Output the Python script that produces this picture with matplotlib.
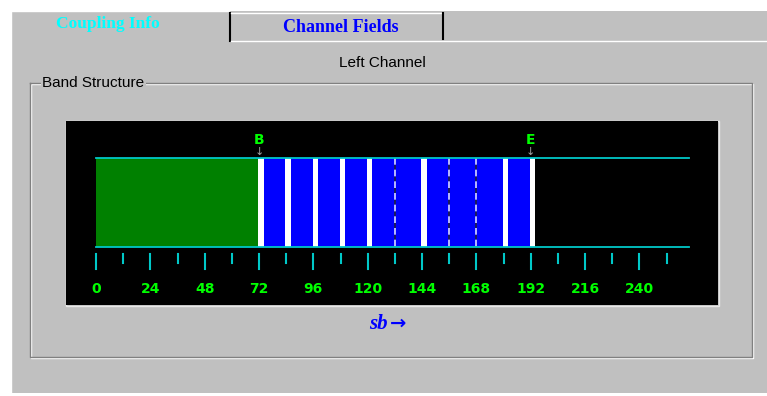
import matplotlib
matplotlib.use("Agg")
import matplotlib.pyplot as plt
from matplotlib.patches import Rectangle

# ── Data ──────────────────────────────────────────────────────────────────────
coupled_start = 0          # green region (coupled)
coupled_end = 72
band_start = 72            # blue region, B..E
band_end = 192
solid_borders = [72, 84, 96, 108, 120, 144, 180, 192]
dashed_borders = [132, 156, 168]
axis_end = 262
major_ticks = [0, 24, 48, 72, 96, 120, 144, 168, 192, 216, 240]
minor_ticks = [12, 36, 60, 84, 108, 132, 156, 180, 204, 228, 252]
marker_labels = ["B", "E"]
marker_pos = [72, 192]

tab_labels = ["Coupling Info", "Channel Fields"]
channel_title = "Left Channel"
group_title = "Band Structure"
axis_label = "sb"

W, H = 767, 396
GRAY = "#c0c0c0"
CYAN = "#00c8c8"
GREEN = "#00ff00"

fig = plt.figure(figsize=(W / 100, H / 100), dpi=100)
fig.patch.set_facecolor("white")

# ── Window chrome in pixel coordinates ────────────────────────────────────────
bg = fig.add_axes([0, 0, 1, 1])
bg.set_xlim(0, W)
bg.set_ylim(H, 0)
bg.axis("off")

bg.add_patch(Rectangle((11, 11), W - 11, 382, fc=GRAY, ec="none"))

# tabs
bg.plot([11, 11], [11, 393], color="white", lw=1)
bg.plot([11, 229], [11, 11], color="white", lw=1)
bg.plot([230, 230], [13, 41], color="black", lw=1.5)
bg.plot([231, 442], [13, 13], color="white", lw=1)
bg.plot([443, 443], [13, 39], color="black", lw=1.5)
bg.plot([231, W], [41, 41], color="white", lw=1)
bg.text(108, 24, tab_labels[0], color="#00ffff", fontsize=12.5, fontweight="bold",
        family="Liberation Serif", ha="center", va="center")
bg.text(341, 28, tab_labels[1], color="#0000ff", fontsize=13, fontweight="bold",
        family="Liberation Serif", ha="center", va="center")

bg.text(382, 63, channel_title, color="black", fontsize=11,
        family="Liberation Sans", ha="center", va="center")

# group box (etched frame)
x0, y0, x1, y1 = 30, 83, 752, 357
for off, col in [(1, "white"), (0, "#808080")]:
    bg.plot([x0 + off, x1 + off, x1 + off, x0 + off, x0 + off],
            [y0 + off, y0 + off, y1 + off, y1 + off, y0 + off], color=col, lw=1)
bg.text(42, 83, group_title, color="black", fontsize=11, family="Liberation Sans",
        ha="left", va="center", bbox=dict(fc=GRAY, ec="none", pad=1))

bg.text(388, 324, axis_label, color="#0000ff", fontsize=15, fontweight="bold",
        style="italic", family="Liberation Serif", ha="right", va="center")
bg.text(390, 323, "\u2192", color="#0000ff", fontsize=14, fontweight="bold",
        family="DejaVu Sans", ha="left", va="center")

# panel border
bg.add_patch(Rectangle((65.5, 120.5), 653, 185, fc="none", ec="#e8e8e8", lw=1))

# ── Band chart ────────────────────────────────────────────────────────────────
px0, py0, px1, py1 = 66, 121, 718, 305
ax = fig.add_axes([px0 / W, 1 - py1 / H, (px1 - px0) / W, (py1 - py0) / H])
ax.set_facecolor("black")
scale = (259 - 96) / 72.0
ax.set_xlim(-(96 - px0) / scale, (px1 - 96) / scale)
ax.set_ylim(py1, py0)
ax.axis("off")
ax.add_patch(Rectangle((-100, 0), 1000, 1000, fc="black", ec="none", zorder=0))

top, bot = 158, 247
ax.fill_between([coupled_start, coupled_end], top, bot, color="#008000", lw=0, zorder=1)
ax.fill_between([band_start, band_end], top, bot, color="#0000ff", lw=0, zorder=1)
stripe = 2.4
for b in solid_borders:
    ax.fill_between([b - 0.3, b - 0.3 + stripe], top, bot, color="white", lw=0, zorder=2)
for b in dashed_borders:
    ax.plot([b, b], [top, bot], color="#d8d8ff", lw=1.2, ls=(0, (4, 3)),
            gapcolor="#202040", zorder=2)
ax.plot([0, axis_end], [top, top], color=CYAN, lw=1.3, zorder=3)
ax.plot([0, axis_end], [bot, bot], color=CYAN, lw=1.3, zorder=3)

for t in major_ticks:
    ax.plot([t, t], [254, 269], color=CYAN, lw=1.5)
    ax.text(t, 289, str(t), color=GREEN, fontsize=10, fontweight="bold",
            family="DejaVu Sans", ha="center", va="center")
for t in minor_ticks:
    ax.plot([t, t], [254, 263], color=CYAN, lw=1.5)

for lab, pos in zip(marker_labels, marker_pos):
    ax.text(pos, 140, lab, color=GREEN, fontsize=10, fontweight="bold",
            family="DejaVu Sans", ha="center", va="center")
    ax.text(pos, 152, "\u2193", color="#a0a0a0", fontsize=8,
            ha="center", va="center")

fig.savefig("out.png", dpi=100, facecolor=fig.get_facecolor())
